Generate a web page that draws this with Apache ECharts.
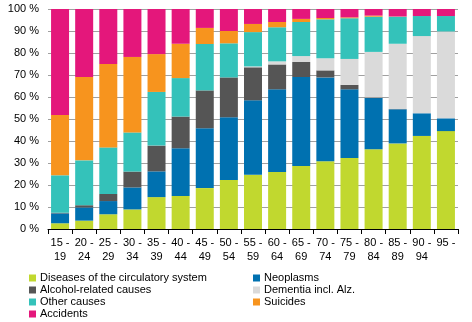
<!DOCTYPE html>
<html>
<head>
<meta charset="utf-8">
<script src="https://cdn.jsdelivr.net/npm/echarts@6/dist/echarts.min.js"></script>
<style>
  html, body { margin: 0; padding: 0; background: #fff; }
  #chart { width: 472px; height: 322px; }
</style>
</head>
<body>
<div id="chart"></div>
<script>
// Age groups
const ageGroups = ['15 - 19', '20 - 24', '25 - 29', '30 - 34', '35 - 39', '40 - 44', '45 - 49', '50 - 54',
  '55 - 59', '60 - 64', '65 - 69', '70 - 74', '75 - 79', '80 - 84', '85 - 89', '90 - 94', '95 -'];

// Share of deaths by cause, % of each age group
const circulatory = [2.6, 3.8, 6.7, 8.9, 14.5, 15.0, 18.6, 22.3, 24.7, 25.9, 28.6, 30.8, 32.3, 36.2, 38.9, 42.3, 44.5];
const neoplasms   = [4.5, 6.0, 6.0, 10.0, 11.7, 21.7, 27.2, 28.5, 33.8, 37.6, 40.5, 38.1, 31.2, 23.3, 15.5, 10.3, 5.8];
const alcohol     = [0.3, 1.0, 3.2, 7.2, 11.7, 14.4, 17.2, 18.1, 15.0, 11.3, 6.8, 3.2, 2.0, 0.3, 0.1, 0.0, 0.0];
const dementia    = [0.0, 0.0, 0.0, 0.0, 0.0, 0.0, 0.0, 0.0, 0.4, 1.4, 2.7, 5.5, 11.8, 20.7, 29.7, 35.1, 39.5];
const otherCauses = [17.0, 20.4, 21.2, 17.8, 24.4, 17.5, 21.1, 15.5, 15.6, 15.5, 15.5, 17.7, 18.5, 16.0, 12.3, 9.1, 7.0];
const suicides    = [27.4, 37.9, 37.9, 34.3, 17.2, 15.6, 7.3, 5.6, 3.7, 2.4, 1.4, 0.6, 0.4, 0.5, 0.1, 0.0, 0.0];
const accidents   = [48.2, 30.9, 25.0, 21.8, 20.5, 15.8, 8.6, 10.0, 6.8, 5.9, 4.5, 4.1, 3.8, 3.0, 3.4, 3.2, 3.2];

const yTicks = [0, 10, 20, 30, 40, 50, 60, 70, 80, 90, 100];

const seriesDefs = [
  { name: 'Diseases of the circulatory system', data: circulatory, color: '#c1d82f' },
  { name: 'Neoplasms', data: neoplasms, color: '#0071b0' },
  { name: 'Alcohol-related causes', data: alcohol, color: '#555555' },
  { name: 'Dementia incl. Alz.', data: dementia, color: '#dadada' },
  { name: 'Other causes', data: otherCauses, color: '#34c2ba' },
  { name: 'Suicides', data: suicides, color: '#f7941e' },
  { name: 'Accidents', data: accidents, color: '#e4177b' }
];

const font = 'Liberation Sans, Arial, sans-serif';
const legendText = { fontFamily: font, fontSize: 11, color: '#000', lineHeight: 12, padding: [0, 0, 0, -1] };

const chart = echarts.init(document.getElementById('chart'), null, { renderer: 'canvas' });
chart.setOption({
  animation: false,
  backgroundColor: '#fff',
  grid: { left: 48, right: 14, top: 9, bottom: 93, containLabel: false },
  legend: [
    {
      orient: 'vertical', left: 29, top: 272, itemGap: 0, itemWidth: 7, itemHeight: 7, icon: 'rect',
      padding: 0, textStyle: legendText,
      data: ['Diseases of the circulatory system', 'Alcohol-related causes', 'Other causes', 'Accidents']
    },
    {
      orient: 'vertical', left: 253, top: 272, itemGap: 0, itemWidth: 7, itemHeight: 7, icon: 'rect',
      padding: 0, textStyle: legendText,
      data: ['Neoplasms', 'Dementia incl. Alz.', 'Suicides']
    }
  ],
  xAxis: {
    type: 'category',
    data: ageGroups,
    axisLine: { show: true, lineStyle: { color: '#000', width: 1 } },
    axisTick: { show: true, alignWithLabel: false, length: 5, lineStyle: { color: '#000' } },
    axisLabel: {
      interval: 0, fontFamily: font, fontSize: 11, color: '#000', lineHeight: 14, margin: 7,
      formatter: v => v.replace(' - ', ' -\n')
    }
  },
  yAxis: {
    type: 'value',
    min: yTicks[0], max: yTicks[yTicks.length - 1], interval: 10,
    axisLine: { show: false },
    axisTick: { show: false },
    splitLine: { show: true, lineStyle: { color: '#a0a0a0', width: 1 } },
    axisLabel: { fontFamily: font, fontSize: 11, color: '#000', margin: 9, formatter: v => v + ' %' }
  },
  series: seriesDefs.map(s => ({
    name: s.name,
    type: 'bar',
    stack: 'total',
    data: s.data,
    barWidth: 18,
    itemStyle: { color: s.color },
    emphasis: { disabled: true }
  }))
});
</script>
</body>
</html>
